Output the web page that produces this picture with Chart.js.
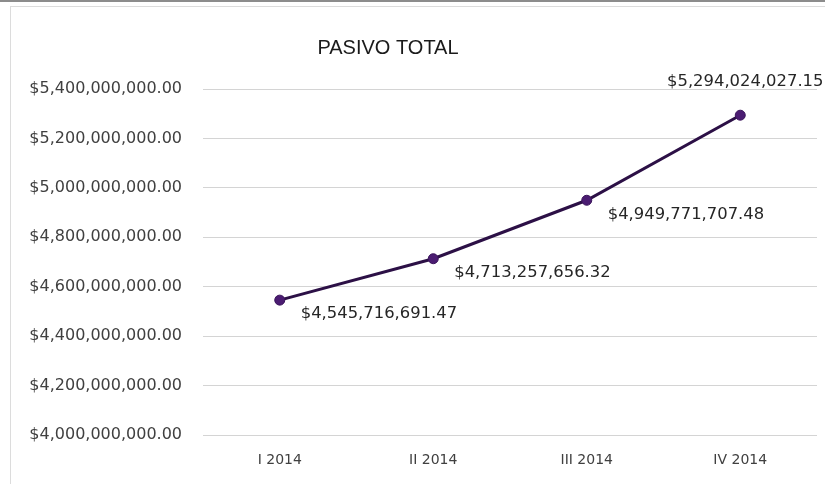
<!DOCTYPE html>
<html>
<head>
<meta charset="utf-8">
<script src="https://cdn.jsdelivr.net/npm/chart.js@4"></script>
<style>
  html, body { margin: 0; padding: 0; background: #fff; }
  #wrap { position: relative; width: 825px; height: 484px; overflow: hidden; }
  #topline { position: absolute; left: 0; top: 0; width: 825px; height: 2px; background: #8c8c8c; }
  #frame { position: absolute; left: 10px; top: 6px; width: 830px; height: 490px;
           border-top: 1px solid #dcdcdc; border-left: 1px solid #dcdcdc; }
  canvas { position: absolute; left: 0; top: 0; }
</style>
</head>
<body>
<div id="wrap">
  <div id="topline"></div>
  <div id="frame"></div>
  <canvas id="chart" width="825" height="484"></canvas>
</div>
<script>
const quarters = ["I 2014", "II 2014", "III 2014", "IV 2014"];
const pasivoTotal = [4545716691.47, 4713257656.32, 4949771707.48, 5294024027.15];
const yMin = 4000000000;
const yMax = 5400000000;
const yStep = 200000000;

const money = (v) =>
  "$" + v.toLocaleString("en-US", { minimumFractionDigits: 2, maximumFractionDigits: 2 });

// title drawn over the plot, Excel-style
const titlePlugin = {
  id: "excelTitle",
  afterDraw(chart) {
    const ctx = chart.ctx;
    ctx.save();
    ctx.font = "20px 'Liberation Sans', Arial, sans-serif";
    ctx.fillStyle = "#1a1a1a";
    ctx.textAlign = "center";
    ctx.textBaseline = "middle";
    ctx.fillText("PASIVO TOTAL", 388, 48);
    ctx.restore();
  },
};

// value labels next to each point (last one above)
const labelPlugin = {
  id: "pointLabels",
  afterDatasetsDraw(chart) {
    const ctx = chart.ctx;
    const meta = chart.getDatasetMeta(0);
    ctx.save();
    ctx.font = "16.4px 'DejaVu Sans', sans-serif";
    ctx.fillStyle = "#262626";
    ctx.textBaseline = "middle";
    meta.data.forEach((pt, i) => {
      const txt = money(pasivoTotal[i]);
      if (i === meta.data.length - 1) {
        ctx.textAlign = "center";
        ctx.fillText(txt, pt.x + 5, pt.y - 33);
      } else {
        ctx.textAlign = "left";
        ctx.fillText(txt, pt.x + 21, pt.y + 14);
      }
    });
    ctx.restore();
  },
};

new Chart(document.getElementById("chart").getContext("2d"), {
  type: "line",
  data: {
    labels: quarters,
    datasets: [
      {
        label: "PASIVO TOTAL",
        data: pasivoTotal,
        borderColor: "#2c1046",
        borderWidth: 3,
        pointBackgroundColor: "#4b1c72",
        pointBorderColor: "#3a145a",
        pointBorderWidth: 1,
        pointRadius: 5,
        tension: 0,
        fill: false,
      },
    ],
  },
  options: {
    responsive: false,
    animation: false,
    layout: { padding: { left: 14, right: 8, top: 89, bottom: 10 } },
    plugins: {
      legend: { display: false },
      tooltip: { enabled: false },
    },
    scales: {
      x: {
        type: "category",
        offset: true,
        grid: { display: false, drawTicks: false },
        border: { display: false },
        ticks: {
          color: "#404040",
          padding: 17,
          font: { family: "'DejaVu Sans', sans-serif", size: 14 },
        },
        afterFit(scale) {
          scale.height = 39;
        },
      },
      y: {
        type: "linear",
        min: yMin,
        max: yMax,
        grid: { color: "#d4d4d4", lineWidth: 1, drawTicks: false },
        border: { display: false },
        ticks: {
          stepSize: yStep,
          color: "#404040",
          padding: 21,
          font: { family: "'DejaVu Sans', sans-serif", size: 16 },
          callback: (v) => money(v),
        },
        afterFit(scale) {
          scale.width = 189;
        },
      },
    },
  },
  plugins: [titlePlugin, labelPlugin],
});
</script>
</body>
</html>
